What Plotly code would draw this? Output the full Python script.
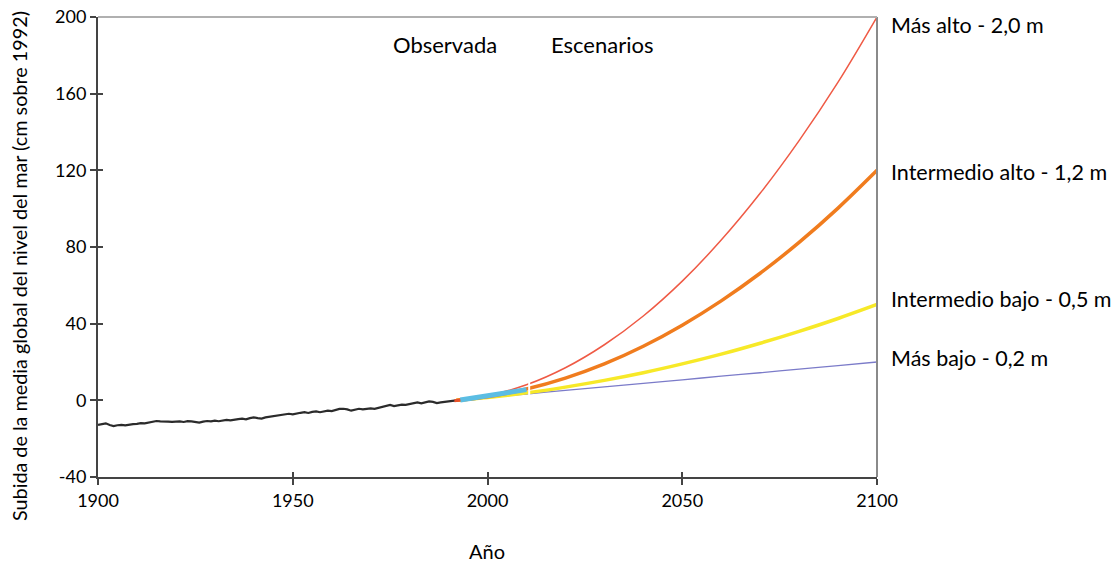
import plotly.graph_objects as go

# ---- data ----
obs_years = list(range(1900, 1993))
obs_values = [-12.8, -12.3, -12.0, -12.9, -13.4, -13.0, -12.8, -13.1, -12.6, -12.4,
              -12.3, -11.9, -12.0, -11.5, -11.2, -10.8, -11.0, -11.2, -11.1, -11.2,
              -11.1, -11.0, -11.3, -10.9, -11.0, -11.2, -11.6, -11.1, -10.8, -11.0,
              -10.6, -10.9, -10.5, -10.2, -10.4, -10.0, -9.8, -9.6, -9.9, -9.3,
              -8.9, -9.3, -9.5, -8.9, -8.6, -8.2, -7.8, -7.4, -7.2, -7.0,
              -7.3, -6.7, -6.5, -6.2, -6.6, -6.0, -5.8, -6.2, -5.6, -5.4,
              -5.6, -5.0, -4.5, -4.4, -4.7, -5.4, -4.9, -4.4, -4.7, -4.5,
              -4.2, -4.4, -3.8, -3.5, -2.6, -2.4, -3.0, -2.6, -2.2, -2.4,
              -2.0, -1.6, -1.1, -1.6, -0.9, -0.6, -0.8, -1.4, -1.1, -0.8,
              -0.5, -0.3, 0.0]

sat_years = list(range(1993, 2011))
sat_values = [0.2, 0.5, 0.9, 1.2, 1.5, 1.9, 2.0, 2.4, 2.8, 3.2,
              3.5, 3.7, 4.0, 4.3, 4.5, 4.9, 5.2, 5.6]

scen_years = [1992, 2000, 2010, 2020, 2030, 2040, 2050, 2060, 2070, 2080, 2090, 2100]
high = [0, 2.4, 8.1, 17.0, 29.0, 44.0, 62.2, 83.6, 108.0, 135.5, 166.0, 200.0]
int_high = [0, 1.9, 5.9, 11.6, 19.0, 28.2, 39.2, 51.9, 66.3, 82.4, 100.3, 120.0]
int_low = [0, 1.5, 3.9, 6.9, 10.4, 14.4, 19.0, 24.1, 29.8, 36.0, 42.7, 50.0]
low = [0, 1.5, 3.3, 5.2, 7.0, 8.9, 10.7, 12.6, 14.4, 16.3, 18.1, 20.0]

scen_labels = ["Más alto - 2,0 m", "Intermedio alto - 1,2 m",
               "Intermedio bajo - 0,5 m", "Más bajo - 0,2 m"]

x_ticks = [1900, 1950, 2000, 2050, 2100]
y_ticks = [-40, 0, 40, 80, 120, 160, 200]
y_ticktext = ["-40", "0", "40", "80", "120", "160", "200"]

FONT = "Lato"
L, R, T, B = 98, 877, 17, 477   # plot area in pixels
W, H = 1116, 564


def px_x(p):
    return (p - L) / (R - L)


def px_y(p):
    return 1 - (p - T) / (B - T)


fig = go.Figure()

fig.add_trace(go.Scatter(x=scen_years, y=low, mode="lines", line=dict(color="#7b7bc9", width=1.3, shape="spline")))
fig.add_trace(go.Scatter(x=scen_years, y=int_low, mode="lines", line=dict(color="#f7e928", width=3.5, shape="spline")))
fig.add_trace(go.Scatter(x=scen_years, y=int_high, mode="lines", line=dict(color="#f07c1e", width=3.5, shape="spline")))
fig.add_trace(go.Scatter(x=scen_years, y=high, mode="lines", line=dict(color="#ef5a45", width=1.5, shape="spline")))
fig.add_trace(go.Scatter(x=obs_years, y=obs_values, mode="lines", line=dict(color="#2b2b2b", width=2.2)))
fig.add_trace(go.Scatter(x=sat_years, y=sat_values, mode="lines", line=dict(color="#5bbde3", width=5)))
fig.add_trace(go.Scatter(x=[1991.5, 1993], y=[-0.2, 0.2], mode="lines", line=dict(color="#e8502a", width=3)))

# overlay axes for inward tick halves
fig.add_trace(go.Scatter(x=[1900], y=[0], xaxis="x2", yaxis="y2", mode="markers",
                         marker=dict(opacity=0), hoverinfo="skip"))

fig.add_shape(type="line", xref="x", yref="y", x0=2010.7, x1=2010.7, y0=-41, y1=12,
              line=dict(color="white", width=2), layer="above")

ends = [high[-1], int_high[-1], int_low[-1], low[-1]]
shifts = [-8, -2, 6, 4]
for lab, yv, sh in zip(scen_labels, ends, shifts):
    fig.add_annotation(x=2100, y=yv, xref="x", yref="y", text=lab, showarrow=False,
                       xanchor="left", yanchor="middle", xshift=12, yshift=sh,
                       font=dict(family=FONT, size=21.5, color="black"))

ann_font = dict(family=FONT, size=22, color="black")
fig.add_annotation(x=px_x(445), y=px_y(44), xref="paper", yref="paper", text="Observada",
                   xanchor="center", yanchor="middle", showarrow=False, font=ann_font)
fig.add_annotation(x=px_x(602), y=px_y(44), xref="paper", yref="paper", text="Escenarios",
                   xanchor="center", yanchor="middle", showarrow=False, font=ann_font)
fig.add_annotation(x=px_x(487), y=px_y(551), xref="paper", yref="paper", text="Año",
                   xanchor="center", yanchor="middle", showarrow=False,
                   font=dict(family=FONT, size=20, color="black"))
fig.add_annotation(x=px_x(19), y=px_y(266), xref="paper", yref="paper",
                   text="Subida de la media global del nivel del mar (cm sobre 1992)",
                   xanchor="center", yanchor="middle",
                   textangle=-90, showarrow=False, font=dict(family=FONT, size=19.8, color="black"))

fig.update_layout(
    width=W, height=H,
    margin=dict(l=L, r=W - R, t=T, b=H - B, autoexpand=False),
    paper_bgcolor="white", plot_bgcolor="white",
    showlegend=False,
    font=dict(family=FONT, size=18, color="black"),
    xaxis=dict(range=[1900, 2100], tickvals=x_ticks, showgrid=False, zeroline=False,
               showline=True, linecolor="#444444", linewidth=2, automargin=False,
               ticks="outside", ticklen=6, tickcolor="#444444", tickwidth=1.5,
               tickfont=dict(family=FONT, size=18)),
    yaxis=dict(range=[-40, 200], tickvals=y_ticks, ticktext=y_ticktext, showgrid=False,
               zeroline=False, automargin=False,
               showline=True, linecolor="#444444", linewidth=2,
               ticks="outside", ticklen=6, tickcolor="#444444", tickwidth=1.5,
               tickfont=dict(family=FONT, size=18)),
    xaxis2=dict(range=[1900, 2100], overlaying="x", anchor="y2", tickvals=x_ticks, ticks="inside",
                ticklen=5, tickcolor="#444444", tickwidth=1.5, showticklabels=False,
                showgrid=False, zeroline=False, showline=False, side="bottom"),
    yaxis2=dict(range=[-40, 200], overlaying="y", anchor="x2", tickvals=y_ticks, ticks="inside",
                ticklen=5, tickcolor="#444444", tickwidth=1.5, showticklabels=False,
                showgrid=False, zeroline=False, showline=False, side="left"),
)

# right and top frame lines (gray)
fig.add_shape(type="line", xref="paper", yref="paper", x0=1, x1=1, y0=0, y1=1,
              line=dict(color="#8a8a8a", width=2))
fig.add_shape(type="line", xref="paper", yref="paper", x0=0, x1=1, y0=1, y1=1,
              line=dict(color="#b0b0b0", width=2))

fig.write_html("out.html", config={"displayModeBar": False},
               post_script="document.body.style.margin='0';document.body.style.overflow='hidden';")
